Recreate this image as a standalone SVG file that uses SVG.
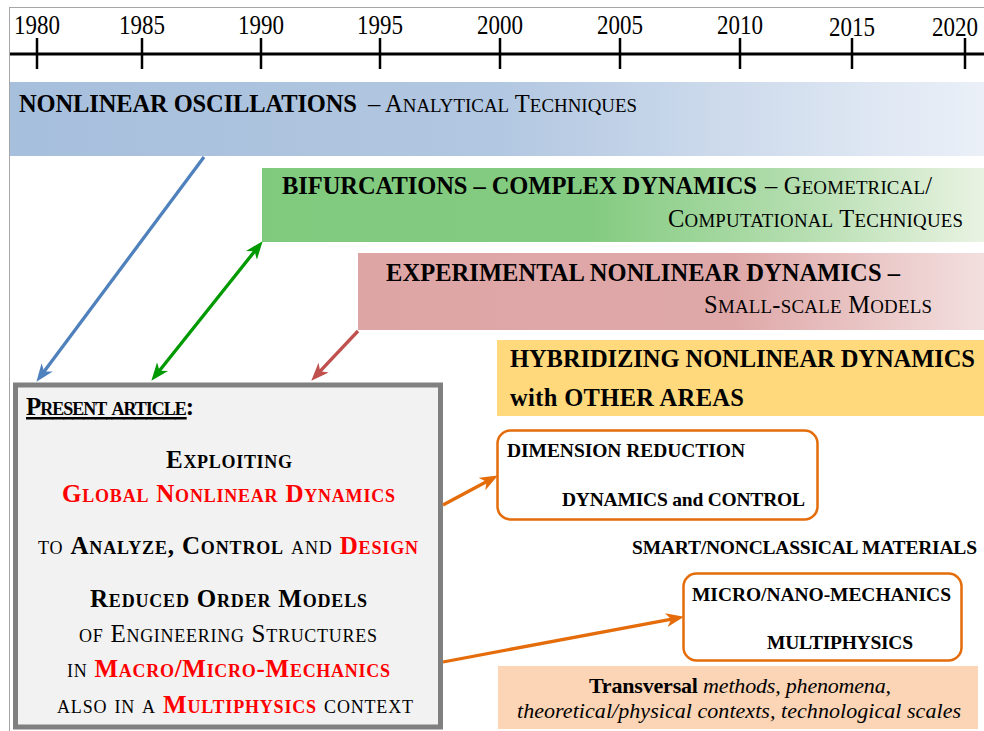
<svg xmlns="http://www.w3.org/2000/svg" width="984" height="731" viewBox="0 0 984 731">
<style>
.yr{font-family:"Liberation Serif",serif;font-size:27px;fill:#000;text-anchor:middle}
.t{font-family:"Liberation Serif",serif;fill:#000}
.bn{font-size:24.5px}
.bx{font-size:25px;font-variant:small-caps}
.rb{font-size:19.5px;font-weight:bold}
.b{font-weight:bold}
.s{font-size:0.77em}
.red{fill:#FF0000}
.it{font-style:italic}
.obox{fill:#fff;stroke:#E46C0A;stroke-width:2.5}
</style>
<defs>
<linearGradient id="gBlue" x1="0" y1="0" x2="1" y2="0">
<stop offset="0" stop-color="#A6BFDC"/><stop offset="0.5" stop-color="#B2C7E1"/><stop offset="1" stop-color="#EBF0F8"/>
</linearGradient>
<linearGradient id="gGreen" x1="0" y1="0" x2="1" y2="0">
<stop offset="0" stop-color="#80CA7E"/><stop offset="0.45" stop-color="#83CB80"/><stop offset="0.75" stop-color="#B5DEB0"/><stop offset="1" stop-color="#E9F3E2"/>
</linearGradient>
<linearGradient id="gRed" x1="0" y1="0" x2="1" y2="0">
<stop offset="0" stop-color="#DEA5A5"/><stop offset="0.6" stop-color="#DFA8A8"/><stop offset="1" stop-color="#F3DFDF"/>
</linearGradient>
<marker id="mBlue" markerUnits="userSpaceOnUse" markerWidth="20" markerHeight="16" refX="7" refY="7" orient="auto-start-reverse"><path d="M0,0 L18,7 L0,14 L5,7 z" fill="#4F81BD"/></marker>
<marker id="mGreen" markerUnits="userSpaceOnUse" markerWidth="20" markerHeight="16" refX="7" refY="7" orient="auto-start-reverse"><path d="M0,0 L18,7 L0,14 L5,7 z" fill="#009900"/></marker>
<marker id="mRed" markerUnits="userSpaceOnUse" markerWidth="20" markerHeight="16" refX="7" refY="7" orient="auto-start-reverse"><path d="M0,0 L18,7 L0,14 L5,7 z" fill="#C0504D"/></marker>
<marker id="mOrange" markerUnits="userSpaceOnUse" markerWidth="20" markerHeight="16" refX="7" refY="7" orient="auto-start-reverse"><path d="M0,0 L18,7 L0,14 L5,7 z" fill="#E46C0A"/></marker>
</defs>
<rect x="0" y="0" width="984" height="731" fill="#fff"/>
<rect x="9.5" y="7.5" width="990" height="740" fill="none" stroke="#A6A6A6" stroke-width="1"/>

<g id="timeline">
<line x1="10" y1="54" x2="984" y2="54" stroke="#000" stroke-width="3"/>
<g stroke="#000" stroke-width="2.5">
<line x1="37" y1="38" x2="37" y2="69"/><line x1="142" y1="38" x2="142" y2="69"/><line x1="261" y1="38" x2="261" y2="69"/>
<line x1="380" y1="38" x2="380" y2="69"/><line x1="500" y1="38" x2="500" y2="69"/><line x1="620" y1="38" x2="620" y2="69"/>
<line x1="740" y1="38" x2="740" y2="69"/><line x1="852" y1="38" x2="852" y2="69"/><line x1="965" y1="38" x2="965" y2="69"/>
</g>
<text class="yr" x="37" y="34" textLength="46" lengthAdjust="spacingAndGlyphs">1980</text>
<text class="yr" x="142" y="34" textLength="46" lengthAdjust="spacingAndGlyphs">1985</text>
<text class="yr" x="261" y="34" textLength="46" lengthAdjust="spacingAndGlyphs">1990</text>
<text class="yr" x="380" y="34" textLength="46" lengthAdjust="spacingAndGlyphs">1995</text>
<text class="yr" x="500" y="34" textLength="46" lengthAdjust="spacingAndGlyphs">2000</text>
<text class="yr" x="620" y="34" textLength="46" lengthAdjust="spacingAndGlyphs">2005</text>
<text class="yr" x="740" y="34" textLength="46" lengthAdjust="spacingAndGlyphs">2010</text>
<text class="yr" x="852" y="36" textLength="46" lengthAdjust="spacingAndGlyphs">2015</text>
<text class="yr" x="955" y="36" textLength="46" lengthAdjust="spacingAndGlyphs">2020</text>
</g>

<g id="nonlinear-oscillations">
<rect x="10" y="82" width="974" height="74" fill="url(#gBlue)"/>
<text class="t bn b" x="19" y="112" textLength="338" lengthAdjust="spacing">NONLINEAR OSCILLATIONS</text>
<text class="t bn" x="368" y="112" textLength="269" lengthAdjust="spacing">– A<tspan class="s">NALYTICAL</tspan> T<tspan class="s">ECHNIQUES</tspan></text>
</g>

<g id="bifurcations">
<rect x="262" y="168" width="722" height="74" fill="url(#gGreen)"/>
<text class="t bn b" x="282" y="194" textLength="475" lengthAdjust="spacing">BIFURCATIONS – COMPLEX DYNAMICS</text>
<text class="t bn" x="765" y="194" textLength="167" lengthAdjust="spacing">– G<tspan class="s">EOMETRICAL</tspan>/</text>
<text class="t bn" x="668" y="227" textLength="295" lengthAdjust="spacing">C<tspan class="s">OMPUTATIONAL</tspan> T<tspan class="s">ECHNIQUES</tspan></text>
</g>

<g id="experimental">
<rect x="358" y="253" width="626" height="77" fill="url(#gRed)"/>
<text class="t bn b" x="386" y="281" textLength="514" lengthAdjust="spacing">EXPERIMENTAL NONLINEAR DYNAMICS –</text>
<text class="t bn" x="704" y="313" textLength="228" lengthAdjust="spacing">S<tspan class="s">MALL</tspan>-<tspan class="s">SCALE</tspan> M<tspan class="s">ODELS</tspan></text>
</g>

<g id="hybridizing">
<rect x="497" y="340" width="487" height="76" fill="#FFD97C"/>
<text class="t bn b" x="510" y="367" textLength="465" lengthAdjust="spacing">HYBRIDIZING NONLINEAR DYNAMICS</text>
<text class="t bn b" x="510" y="406" textLength="234" lengthAdjust="spacing">with OTHER AREAS</text>
</g>

<g id="present-article">
<rect x="15.5" y="385" width="425" height="342" fill="#F2F2F2" stroke="#808080" stroke-width="5"/>
<text class="t bx b" x="26" y="415" textLength="168" lengthAdjust="spacing"><tspan text-decoration="underline">Present article</tspan>:</text>
<text class="t bx b" x="229" y="468" text-anchor="middle" textLength="126" lengthAdjust="spacing">Exploiting</text>
<text class="t bx b red" x="228.5" y="502" text-anchor="middle" textLength="333" lengthAdjust="spacing">Global Nonlinear Dynamics</text>
<text class="t bx" x="228" y="554" text-anchor="middle" textLength="380" lengthAdjust="spacing">to <tspan class="b">Analyze, Control</tspan> and <tspan class="b red">Design</tspan></text>
<text class="t bx b" x="228.5" y="607" text-anchor="middle" textLength="277" lengthAdjust="spacing">Reduced Order Models</text>
<text class="t bx" x="228" y="642" text-anchor="middle" textLength="298" lengthAdjust="spacing">of Engineering Structures</text>
<text class="t bx" x="228.5" y="677" text-anchor="middle" textLength="323" lengthAdjust="spacing">in <tspan class="b red">Macro/Micro-Mechanics</tspan></text>
<text class="t bx" x="235" y="713" text-anchor="middle" textLength="356" lengthAdjust="spacing">also in a <tspan class="b red">Multiphysics</tspan> context</text>
</g>

<g id="dimension-reduction">
<rect class="obox" x="497.5" y="430.5" width="320" height="89" rx="13"/>
<text class="t rb" x="507" y="457" textLength="238" lengthAdjust="spacing">DIMENSION REDUCTION</text>
<text class="t rb" x="562" y="506" textLength="243" lengthAdjust="spacing">DYNAMICS and CONTROL</text>
</g>

<g id="smart-materials">
<text class="t rb" x="632" y="554" textLength="345" lengthAdjust="spacing">SMART/NONCLASSICAL MATERIALS</text>
</g>

<g id="micro-nano">
<rect class="obox" x="683.5" y="573.5" width="278" height="87" rx="13"/>
<text class="t rb" x="692" y="601" textLength="259" lengthAdjust="spacing">MICRO/NANO-MECHANICS</text>
<text class="t rb" x="767" y="649" textLength="146" lengthAdjust="spacing">MULTIPHYSICS</text>
</g>

<g id="transversal">
<rect x="498" y="666" width="480" height="63" fill="#FBD5B5"/>
<text class="t" x="589" y="693" font-size="22" textLength="302" lengthAdjust="spacing"><tspan class="b">Transversal</tspan> <tspan class="it">methods, phenomena,</tspan></text>
<text class="t it" x="517" y="718" font-size="22" textLength="444" lengthAdjust="spacing">theoretical/physical contexts, technological scales</text>
</g>

<g id="connectors" fill="none" stroke-width="3.3">
<line x1="204" y1="157" x2="43" y2="373" stroke="#4F81BD" marker-end="url(#mBlue)"/>
<line x1="158.2" y1="372.2" x2="255.8" y2="249.8" stroke="#009900" marker-start="url(#mGreen)" marker-end="url(#mGreen)"/>
<line x1="358" y1="331" x2="318.8" y2="372.7" stroke="#C0504D" marker-end="url(#mRed)"/>
<line x1="443" y1="505" x2="488.2" y2="480.7" stroke="#E46C0A" marker-end="url(#mOrange)"/>
<line x1="443" y1="662" x2="673.2" y2="618.8" stroke="#E46C0A" marker-end="url(#mOrange)"/>
</g>
</svg>
